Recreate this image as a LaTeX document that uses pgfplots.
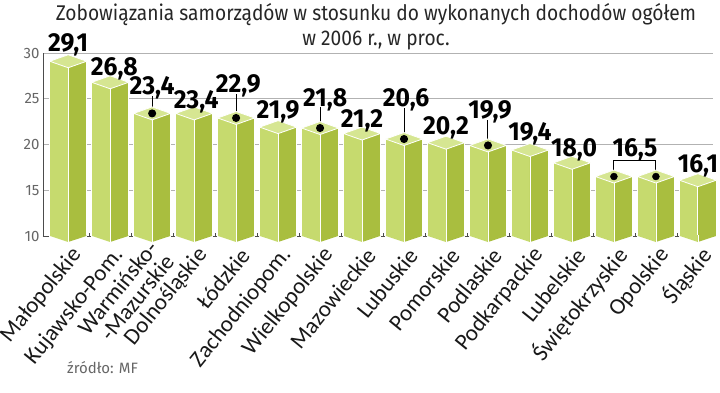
\documentclass[border=0pt]{standalone}
\usepackage{pgfplots}
\usepackage{pgfplotstable}
\pgfplotsset{compat=1.18}
\usepackage{fontspec}
\setmainfont{Fira Sans}
\newfontfamily\titlefont[FakeStretch=0.9]{Fira Sans}
\newfontfamily\valfont[FakeStretch=0.95]{Fira Sans}
\newfontfamily\catfont{Carlito}
\definecolor{barL}{HTML}{C6DA6E}
\definecolor{barR}{HTML}{A9BE3F}
\definecolor{barT}{HTML}{D6E692}

\pgfdeclareplotmark{roof}{%
  \pgfpathmoveto{\pgfqpoint{-18.5pt}{0pt}}%
  \pgfpathlineto{\pgfqpoint{0pt}{6.5pt}}%
  \pgfpathlineto{\pgfqpoint{18.5pt}{0pt}}%
  \pgfpathlineto{\pgfqpoint{0pt}{-6.5pt}}%
  \pgfpathclose
  \pgfusepathqfillstroke}
\pgfdeclareplotmark{vbot}{%
  \pgfsetfillcolor{barL}%
  \pgfpathmoveto{\pgfqpoint{-18.1pt}{1pt}}%
  \pgfpathlineto{\pgfqpoint{0pt}{1pt}}%
  \pgfpathlineto{\pgfqpoint{0pt}{-6pt}}%
  \pgfpathlineto{\pgfqpoint{-18.1pt}{0pt}}%
  \pgfpathclose
  \pgfusepathqfill
  \pgfsetfillcolor{barR}%
  \pgfpathmoveto{\pgfqpoint{0pt}{1pt}}%
  \pgfpathlineto{\pgfqpoint{18.1pt}{1pt}}%
  \pgfpathlineto{\pgfqpoint{18.1pt}{0pt}}%
  \pgfpathlineto{\pgfqpoint{0pt}{-6pt}}%
  \pgfpathclose
  \pgfusepathqfill
  \pgfsetstrokecolor{white}%
  \pgfpathmoveto{\pgfqpoint{0pt}{1pt}}%
  \pgfpathlineto{\pgfqpoint{0pt}{-6pt}}%
  \pgfusepathqstroke}

\pgfplotstableread{
x v b
0 29.1 10
1 26.8 10
2 23.4 10
3 23.4 10
4 22.9 10
5 21.9 10
6 21.8 10
7 21.2 10
8 20.6 10
9 20.2 10
10 19.9 10
11 19.4 10
12 18.0 10
13 16.5 10
14 16.5 10
15 16.1 10
}\datatable

\pgfplotstableread{
x y lab
0 30.2 29,1
1.1 27.5 26,8
2 25.5 23,4
3.05 23.9 23,4
4.05 25.7 22,9
5 22.8 21,9
6.12 24.2 21,8
7 21.9 21,2
8.05 24.1 20,6
9 21.1 20,2
10.05 22.8 19,9
11 20.4 19,4
12.05 18.7 18,0
13.5 18.7 16,5
15 16.9 16,1
}\labtable

\begin{document}
\begin{tikzpicture}
\useasboundingbox (-43pt,-156pt) rectangle (677pt,236pt);
\begin{axis}[
  at={(0,0)}, anchor=south west,
  scale only axis, width=670pt, height=183pt,
  xmin=-0.6, xmax=15.36, ymin=10, ymax=30,
  clip=false,
  axis x line*=bottom, axis y line*=left,
  axis line style={draw=black!70, line width=0.8pt, -},
  ytick={10,15,20,25,30},
  ymajorgrids, grid style={black!30, line width=0.6pt},
  ytick style={draw=none},
  xtick={0,...,15},
  xticklabels={Małopolskie,Kujawsko-Pom.,{Warmińsko-\\-Mazurskie},Dolnośląskie,Łódzkie,Zachodniopom.,Wielkopolskie,Mazowieckie,Lubuskie,Pomorskie,Podlaskie,Podkarpackie,Lubelskie,Świętokrzyskie,Opolskie,Śląskie},
  minor xtick={0.5,1.5,...,14.5},
  major x tick style={draw=none},
  minor x tick style={draw=black!70, line width=0.8pt},
  minor tick length=3pt,
  /pgf/number format/assume math mode=true,
  yticklabel style={font=\fontsize{15}{15}\selectfont, text=black!60},
  xticklabel style={font=\catfont\fontsize{23}{21}\selectfont, text=black!90,
     xshift=9pt, yshift=-15pt, rotate=51, anchor=east, align=right, inner sep=0pt},
]
\addplot[ybar, bar width=0.44, bar shift=-0.22, fill=barL, draw=white, line width=0.8pt] table[x=x,y=v]{\datatable};
\addplot[ybar, bar width=0.44, bar shift=0.22, fill=barR, draw=white, line width=0.8pt] table[x=x,y=v]{\datatable};
\addplot[only marks, mark=vbot] table[x=x,y=b]{\datatable};
\addplot[only marks, mark=roof, mark options={fill=barT, draw=white, line width=0.8pt}] table[x=x,y=v]{\datatable};
% callouts
\addplot[black, line width=1pt, mark=*, mark size=3.5pt, mark indices={1}] coordinates {(2,23.4) (2,25.3)};
\addplot[black, line width=1pt, mark=*, mark size=3.5pt, mark indices={1}] coordinates {(4,22.9) (4,25.5)};
\addplot[black, line width=1pt, mark=*, mark size=3.5pt, mark indices={1}] coordinates {(6,21.8) (6,24.1)};
\addplot[black, line width=1pt, mark=*, mark size=3.5pt, mark indices={1}] coordinates {(8,20.6) (8,24.0)};
\addplot[black, line width=1pt, mark=*, mark size=3.5pt, mark indices={1}] coordinates {(10,19.9) (10,22.7)};
\addplot[black, line width=1pt] coordinates {(13,16.5) (13,18.3) (14,18.3) (14,16.5)};
\addplot[only marks, black, mark=*, mark size=3.5pt] coordinates {(13,16.5) (14,16.5)};
% value labels
\addplot[draw=none, mark=none, nodes near coords, point meta=explicit symbolic,
  nodes near coords style={anchor=base, inner sep=0pt, text=black,
    font=\valfont\bfseries\fontsize{26}{26}\selectfont}]
  table[x=x,y=y,meta=lab]{\labtable};
\end{axis}
\node[anchor=base, font=\titlefont\fontsize{21.3}{21.3}\selectfont, text=black!85] at (333pt,216pt) {Zobowiązania samorządów w stosunku do wykonanych dochodów ogółem};
\node[anchor=base, font=\titlefont\fontsize{21.3}{21.3}\selectfont, text=black!85] at (333pt,191pt) {w 2006 r., w proc.};
\node[anchor=base west, inner sep=0pt, font=\fontsize{15}{15}\selectfont, text=black!60] at (24pt,-137pt) {źródło: MF};
\end{tikzpicture}
\end{document}
